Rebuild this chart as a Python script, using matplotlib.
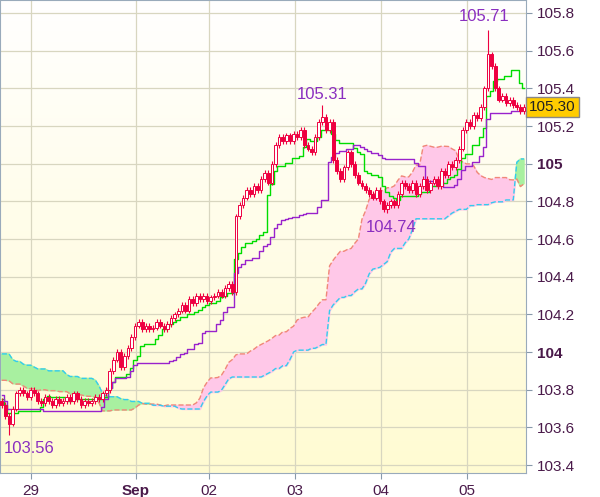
import matplotlib.pyplot as plt
import numpy as np
from matplotlib.colors import LinearSegmentedColormap

plt.rcParams['font.family'] = ['Liberation Sans', 'DejaVu Sans']

# hourly closes shown on the chart
closes = [103.72, 103.66, 103.62, 103.70, 103.78, 103.80, 103.78, 103.76, 103.80, 103.78,
          103.74, 103.73, 103.76, 103.74, 103.72, 103.75, 103.73, 103.74, 103.76, 103.74,
          103.78, 103.75, 103.72, 103.74, 103.73, 103.74, 103.76, 103.75, 103.78, 103.80,
          103.90, 103.96, 104.00, 103.92, 103.98, 104.02, 104.08, 104.14, 104.16, 104.12,
          104.14, 104.12, 104.13, 104.16, 104.14, 104.12, 104.15, 104.18, 104.20, 104.22,
          104.25, 104.22, 104.28, 104.26, 104.30, 104.28, 104.30, 104.27, 104.29, 104.30,
          104.32, 104.30, 104.34, 104.36, 104.32, 104.72, 104.78, 104.82, 104.86, 104.84,
          104.88, 104.86, 104.92, 104.95, 104.90, 105.00, 105.10, 105.14, 105.12, 105.15,
          105.12, 105.16, 105.14, 105.18, 105.10, 105.08, 105.06, 105.14, 105.22, 105.25,
          105.18, 105.22, 105.02, 104.96, 104.92, 104.98, 105.06, 105.00, 104.94, 104.90,
          104.88, 104.86, 104.84, 104.82, 104.86, 104.80, 104.76, 104.78, 104.80, 104.78,
          104.84, 104.90, 104.88, 104.86, 104.90, 104.84, 104.88, 104.92, 104.86, 104.90,
          104.92, 104.88, 104.96, 104.94, 105.00, 104.98, 105.02, 105.08, 105.18, 105.22,
          105.20, 105.26, 105.24, 105.30, 105.40, 105.58, 105.52, 105.40, 105.34, 105.36,
          105.32, 105.34, 105.31, 105.30, 105.28, 105.30]

# earlier closes (not drawn) that feed the indicator lines and cloud
history = [104.15, 104.18, 104.20, 104.16, 104.12, 104.14, 104.10, 104.08, 104.12, 104.10,
           104.06, 104.04, 104.08, 104.05, 104.02, 104.00, 104.03, 104.06, 104.02, 103.98,
           104.00, 104.02, 103.98, 103.96, 103.98, 104.00, 103.97, 103.95, 103.98, 103.96,
           103.94, 103.92, 103.95, 103.93, 103.90, 103.92, 103.88, 103.86, 103.90, 103.88,
           103.85, 103.88, 103.84, 103.82, 103.86, 103.84, 103.80, 103.82, 103.85, 103.83,
           103.80, 103.78, 103.82, 103.80, 103.78, 103.76, 103.80, 103.78, 103.75, 103.74,
           103.78, 103.76, 103.80, 103.82, 103.78, 103.76, 103.74, 103.78, 103.80, 103.76,
           103.74, 103.72, 103.76, 103.74, 103.72, 103.75, 103.78, 103.74]

high_marks = {89: 105.31, 135: 105.71}
low_marks = {2: 103.56, 107: 104.74}

tick_pos = [8, 37.2, 57.5, 81.4, 105.3, 129.2]
tick_labels = ['29', 'Sep', '02', '03', '04', '05']
y_ticks = [103.4, 103.6, 103.8, 104, 104.2, 104.4, 104.6, 104.8, 105, 105.2, 105.4, 105.6, 105.8]

allc = np.array(history + closes)
opens = np.concatenate([[allc[0]], allc[:-1]])
highs = np.maximum(opens, allc) + 0.015
lows = np.minimum(opens, allc) - 0.015
off = len(history)
for k, v in high_marks.items():
    highs[off + k] = v
for k, v in low_marks.items():
    lows[off + k] = v


def midline(n):
    out = np.full(len(allc), np.nan)
    for i in range(n - 1, len(allc)):
        out[i] = (highs[i - n + 1:i + 1].max() + lows[i - n + 1:i + 1].min()) / 2
    return out


tenkan = midline(9)
kijun = midline(26)
span_a = (tenkan + kijun) / 2
span_b = midline(52)
n = len(closes)
x = np.arange(n)
# leading spans shifted forward 26 periods
sa = span_a[off - 26:off - 26 + n]
sb = span_b[off - 26:off - 26 + n]

fig = plt.figure(figsize=(6, 4.97), dpi=100)
ax = fig.add_axes([0, 0.048, 0.877, 0.952])
xlim = (-0.5, 145.6)
ylim = (103.357, 105.869)
grad = np.linspace(0, 1, 256).reshape(-1, 1)
cmap = LinearSegmentedColormap.from_list('bg', ['#fffbd2', '#ffffff'])
ax.imshow(grad, aspect='auto', cmap=cmap, origin='lower',
          extent=[xlim[0], xlim[1], ylim[0], ylim[1]], zorder=0)
ax.set_xlim(xlim)
ax.set_ylim(ylim)
for t in tick_pos:
    ax.axvline(t, color='#d8d6c0', lw=0.9, zorder=1)
for t in y_ticks:
    ax.axhline(t, color='#d8d6c0', lw=0.9, zorder=1)

ax.fill_between(x, sa, sb, where=sa >= sb, color='#ffc8e8', interpolate=True, zorder=2)
ax.fill_between(x, sa, sb, where=sb > sa, color='#a8f0a0', interpolate=True, zorder=2)
ax.plot(x, sa, color='#f08878', lw=1, ls='--', zorder=3)
ax.plot(x, sb, color='#33ccee', lw=1, ls='--', zorder=3)
ax.plot(x, tenkan[off:], color='#00dd00', lw=1, drawstyle='steps-mid', zorder=4)
ax.plot(x, kijun[off:], color='#9922cc', lw=1, drawstyle='steps-mid', zorder=4)

red = '#ee0040'
o, c, h, l = opens[off:], allc[off:], highs[off:], lows[off:]
for i in range(n):
    ax.vlines(i, l[i], h[i], color=red, lw=0.8, zorder=5)
    up = c[i] >= o[i]
    ax.bar(i, max(abs(c[i] - o[i]), 0.005), bottom=min(o[i], c[i]), width=0.75,
           color='white' if up else red, edgecolor=red, lw=0.7, zorder=6)

lab = '#8a2ec0'
ax.text(89, 105.33, '105.31', color=lab, fontsize=12, ha='center', va='bottom')
ax.text(134, 105.74, '105.71', color=lab, fontsize=12, ha='center', va='bottom')
ax.text(0.5, 103.53, '103.56', color=lab, fontsize=12, ha='left', va='top')
ax.text(108, 104.70, '104.74', color=lab, fontsize=12, ha='center', va='top')

ax.yaxis.tick_right()
ax.set_yticks(y_ticks)
ax.set_yticklabels([('%g' % t if t in (104, 105) else '%.1f' % t) for t in y_ticks],
                   color='#4a1a4a', fontsize=11)
for tl in ax.get_yticklabels():
    if tl.get_text() in ('104', '105'):
        tl.set_fontweight('bold')
ax.set_xticks(tick_pos)
ax.set_xticklabels(tick_labels, color='#4a1a4a', fontsize=11)
ax.get_xticklabels()[1].set_fontweight('bold')
ax.tick_params(axis='both', length=4, color='#8899aa')
for s in ax.spines.values():
    s.set_color('#99aabb')
ax.text(1.005, 105.30, '105.30', transform=ax.get_yaxis_transform(), fontsize=11,
        va='center', ha='left', color='#222222',
        bbox=dict(boxstyle='square,pad=0.2', fc='#ffcc00', ec='#888888'))

fig.savefig('out.png', dpi=100)
